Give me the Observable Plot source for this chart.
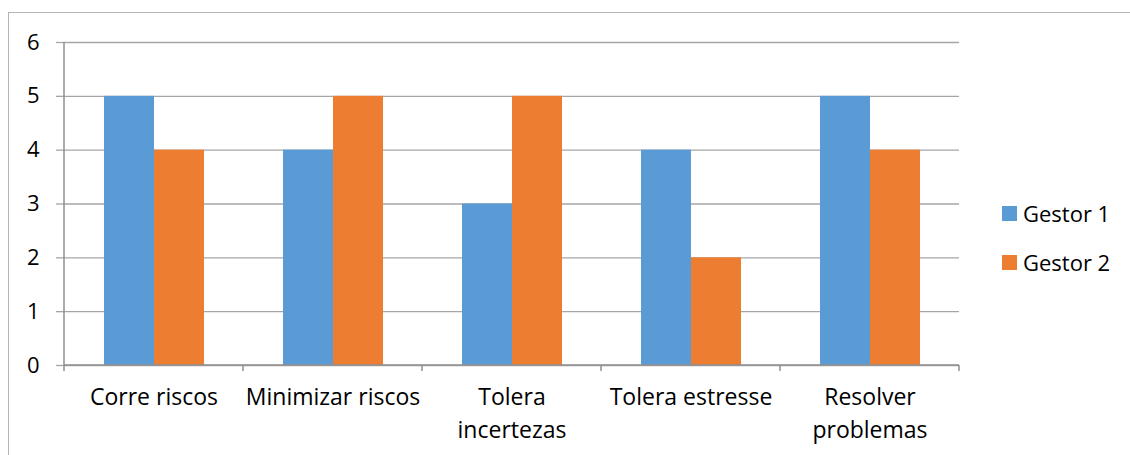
<!DOCTYPE html>
<html>
<head>
<meta charset="utf-8">
<script src="https://cdn.jsdelivr.net/npm/d3@7"></script>
<script src="https://cdn.jsdelivr.net/npm/@observablehq/plot@0.6"></script>
<style>
  html, body { margin: 0; padding: 0; background: #fff; width: 1130px; height: 455px; overflow: hidden; }
  #wrap { position: relative; width: 1130px; height: 455px; font-family: "Open Sans", sans-serif; }
  #border { position: absolute; left: 8px; top: 12px; width: 1200px; height: 500px; border: 1px solid #b4b4b4; box-sizing: border-box; }
  #chart { position: absolute; left: 0; top: 0; }
  .legend-item { position: absolute; left: 1002px; display: flex; align-items: center; font-size: 22px; color: #000; height: 26px; }
  .legend-item .sw { width: 15px; height: 15px; margin-right: 6px; }
</style>
</head>
<body>
<div id="wrap">
  <div id="border"></div>
  <div id="chart"></div>
</div>
<script>
const categories = ["Corre riscos", "Minimizar riscos", "Tolera incertezas", "Tolera estresse", "Resolver problemas"];
const categoryLabels = ["Corre riscos", "Minimizar riscos", "Tolera\nincertezas", "Tolera estresse", "Resolver\nproblemas"];
const series = ["Gestor 1", "Gestor 2"];
const gestor1 = [5, 4, 3, 4, 5];
const gestor2 = [4, 5, 5, 2, 4];
const yTicks = [0, 1, 2, 3, 4, 5, 6];
const colors = ["#5B9BD5", "#ED7D31"];
const legendTops = [200, 249];

const seriesValues = [gestor1, gestor2];
const rows = categories.flatMap((c, i) => series.map((s, j) => ({category: c, series: s, value: seriesValues[j][i]})));
const labelOf = new Map(categories.map((c, i) => [c, categoryLabels[i]]));

const gridColor = "#a6a6a6";
const axisColor = "#8f8f8f";

const chart = Plot.plot({
  width: 1130,
  height: 455,
  marginLeft: 63,
  marginRight: 170,
  marginTop: 42,
  marginBottom: 90,
  style: {fontFamily: "'Open Sans', sans-serif", fontSize: "22px", color: "#000", background: "transparent"},
  fx: {domain: categories, padding: 0, label: null},
  x: {domain: series, axis: null, paddingInner: 0, paddingOuter: 0.776},
  y: {domain: [0, 6], label: null},
  color: {domain: series, range: colors},
  marks: [
    Plot.gridY(yTicks, {stroke: gridColor, strokeOpacity: 1, strokeWidth: 1.3}),
    Plot.axisY(yTicks, {tickSize: 8, tickPadding: 17, stroke: gridColor, strokeWidth: 1.3, fontSize: 22, tickFormat: d3.format("d"), label: null}),
    Plot.barY(rows, {fx: "category", x: "series", y: "value", fill: "series"}),
    Plot.axisFx({anchor: "bottom", tickSize: 0, tickPadding: 16.5, fontSize: 23, lineHeight: 1.435, tickFormat: (d) => labelOf.get(d), label: null}),
    Plot.frame({
      facet: "super",
      render(index, scales, values, dimensions, context) {
        const {fx, y} = scales;
        const starts = categories.map((c) => fx(c));
        const step = starts[1] - starts[0];
        const edges = [...starts, starts[starts.length - 1] + step];
        const y0 = y(0), yTop = y(6);
        const g = d3.create("svg:g").attr("stroke", axisColor).attr("stroke-width", 1.5).attr("fill", "none");
        g.append("line").attr("x1", edges[0]).attr("x2", edges[edges.length - 1]).attr("y1", y0).attr("y2", y0);
        g.append("line").attr("x1", edges[0]).attr("x2", edges[0]).attr("y1", yTop).attr("y2", y0);
        for (const e of edges) {
          g.append("line").attr("x1", e).attr("x2", e).attr("y1", y0).attr("y2", y0 + 6);
        }
        return g.node();
      }
    })
  ]
});
document.getElementById("chart").appendChild(chart);

const wrap = document.getElementById("wrap");
series.forEach((s, j) => {
  const item = document.createElement("div");
  item.className = "legend-item";
  item.style.top = legendTops[j] + "px";
  const sw = document.createElement("div");
  sw.className = "sw";
  sw.style.background = colors[j];
  const label = document.createElement("span");
  label.textContent = s;
  item.appendChild(sw);
  item.appendChild(label);
  wrap.appendChild(item);
});
</script>
</body>
</html>
